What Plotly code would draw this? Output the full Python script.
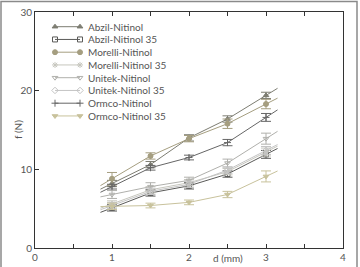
import plotly.graph_objects as go

d_mm = [1, 1.5, 2, 2.5, 3]
series_names = ["Abzil-Nitinol", "Abzil-Nitinol 35", "Morelli-Nitinol", "Morelli-Nitinol 35",
                "Unitek-Nitinol", "Unitek-Nitinol 35", "Ormco-Nitinol", "Ormco-Nitinol 35"]
abzil = [8.2, 10.6, 14.0, 16.4, 19.4]
abzil35 = [5.1, 7.0, 7.9, 9.4, 11.9]
morelli = [8.8, 11.7, 13.9, 15.8, 18.3]
morelli35 = [5.6, 7.4, 8.3, 9.7, 12.2]
unitek = [6.8, 7.8, 8.6, 10.8, 13.9]
unitek35 = [5.4, 7.2, 8.1, 9.9, 12.4]
ormco = [7.8, 10.2, 11.5, 13.4, 16.6]
ormco35 = [5.3, 5.4, 5.8, 6.8, 9.1]

abzil_err = [0.4, 0.4, 0.4, 0.4, 0.4]
abzil35_err = [0.4, 0.4, 0.4, 0.4, 0.5]
morelli_err = [0.8, 0.4, 0.4, 0.6, 0.6]
morelli35_err = [0.4, 0.4, 0.4, 0.4, 0.5]
unitek_err = [0.5, 0.5, 0.4, 0.5, 0.7]
unitek35_err = [0.4, 0.4, 0.4, 0.4, 0.5]
ormco_err = [0.3, 0.3, 0.3, 0.4, 0.5]
ormco35_err = [0.4, 0.3, 0.3, 0.4, 0.7]

values = [abzil, abzil35, morelli, morelli35, unitek, unitek35, ormco, ormco35]
errors = [abzil_err, abzil35_err, morelli_err, morelli35_err, unitek_err, unitek35_err, ormco_err, ormco35_err]
colors = ["#7d7d72", "#5a5a58", "#a59e80", "#c6c6be", "#b0b0ac", "#c4c4c4", "#666666", "#c8c29c"]
symbols = ["triangle-up", "square-open", "circle", "asterisk-open", "triangle-down-open",
           "diamond-open", "cross-thin-open", "triangle-down"]

FONT = "Lato"

fig = go.Figure()

ext = 0.3
for name, ys, es, c, s in zip(series_names, values, errors, colors, symbols):
    step = d_mm[1] - d_mm[0]
    xl = [d_mm[0] - ext * step] + d_mm + [d_mm[-1] + ext * step]
    yl = [ys[0] - ext * (ys[1] - ys[0])] + ys + [ys[-1] + ext * (ys[-1] - ys[-2])]
    fig.add_trace(go.Scatter(x=xl, y=yl, mode="lines", line=dict(color=c, width=1),
                             showlegend=False, hoverinfo="skip"))
    fig.add_trace(go.Scatter(x=d_mm, y=ys, mode="markers", name=name,
                             marker=dict(symbol=s, size=5, color=c, line=dict(color=c, width=1)),
                             error_y=dict(type="data", array=es, color=c, thickness=1, width=5),
                             showlegend=False))

# manual legend on an overlay axis measured in pixels from the plot's top-left corner
leg_x0, leg_x1, leg_text_x = 20, 45, 51
leg_y0, leg_dy = 14.7, 12.75
for i, (name, c, s) in enumerate(zip(series_names, colors, symbols)):
    yy = leg_y0 + leg_dy * i
    fig.add_trace(go.Scatter(x=[leg_x0, leg_x1], y=[yy, yy], mode="lines+markers",
                             xaxis="x2", yaxis="y2",
                             line=dict(color=c, width=1),
                             marker=dict(symbol=s, size=5, color=c, line=dict(color=c, width=1)),
                             showlegend=False, hoverinfo="skip"))
    fig.add_annotation(x=leg_text_x, y=yy, xref="x2", yref="y2", text=name, showarrow=False,
                       xanchor="left", yanchor="middle",
                       font=dict(family=FONT, size=10, color="#555555"))

W, H = 360, 267
ml, mr, mt, mb = 35, 17, 12, 19
pw, ph = W - ml - mr, H - mt - mb

fig.update_layout(
    width=W, height=H,
    margin=dict(l=ml, r=mr, t=mt, b=mb, autoexpand=False),
    paper_bgcolor="white", plot_bgcolor="white",
    showlegend=False,
    font=dict(family=FONT, size=10, color="#555555"),
    xaxis=dict(range=[0, 4], dtick=1, tick0=0, showgrid=False, zeroline=False, automargin=False,
               showline=True, linecolor="#333333", linewidth=1, mirror="allticks",
               ticks="inside", ticklen=4, tickcolor="#333333",
               minor=dict(dtick=0.5, ticks="inside", ticklen=4, tickcolor="#333333", showgrid=False),
               tickfont=dict(family=FONT, size=10, color="#555555")),
    yaxis=dict(range=[0, 30], dtick=10, showgrid=False, zeroline=False, automargin=False,
               showline=True, linecolor="#333333", linewidth=1, mirror=True,
               ticks="inside", ticklen=4, tickcolor="#333333",
               tickfont=dict(family=FONT, size=10, color="#555555")),
    xaxis2=dict(overlaying="x", range=[0, pw], visible=False, fixedrange=True, automargin=False),
    yaxis2=dict(overlaying="y", range=[ph, 0], visible=False, fixedrange=True, automargin=False),
)

fig.add_annotation(x=2.5, y=-(10.3) / ph, xref="x", yref="paper", text="d (mm)",
                   showarrow=False, yanchor="middle", font=dict(family=FONT, size=10, color="#555555"))
fig.add_annotation(x=(10 - ml) / pw, y=0.5, xref="paper", yref="paper", text="f (N)",
                   showarrow=False, textangle=-90, font=dict(family=FONT, size=10, color="#555555"))

# outer frame
fig.add_shape(type="rect", xref="paper", yref="paper",
              x0=(1 - ml) / pw, x1=(357 - ml) / pw,
              y0=(mt + ph - 272) / ph, y1=(mt + ph - 1.5) / ph,
              line=dict(color="#8a8a8a", width=1.5), fillcolor="rgba(0,0,0,0)")

fig.write_html("out.html")
